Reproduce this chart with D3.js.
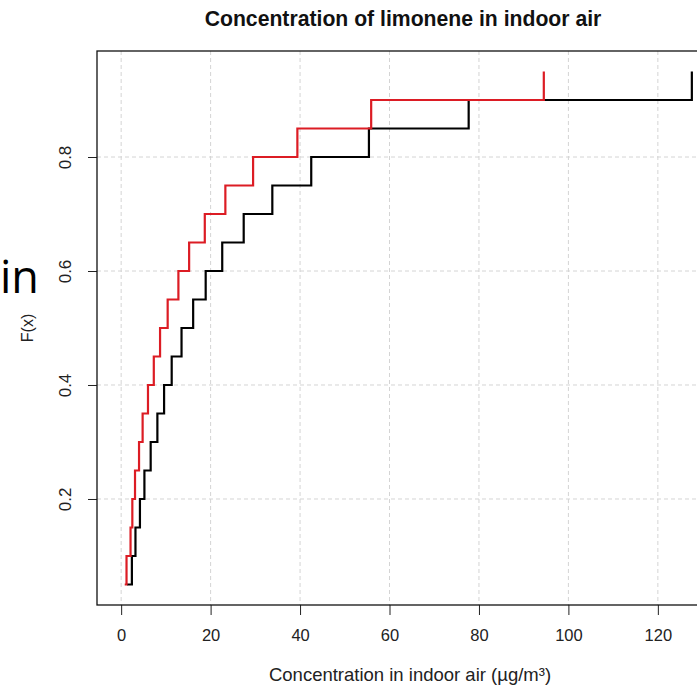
<!DOCTYPE html>
<html>
<head>
<meta charset="utf-8">
<script src="https://cdn.jsdelivr.net/npm/d3@7"></script>
<style>
  body { margin: 0; background: #fff; }
  text { font-family: "Liberation Sans", Arial, sans-serif; }
</style>
</head>
<body>
<div id="chart"></div>
<script>
// cumulative levels and sorted concentrations (ug/m3)
const probs = [0.05, 0.10, 0.15, 0.20, 0.25, 0.30, 0.35, 0.40, 0.45, 0.50,
               0.55, 0.60, 0.65, 0.70, 0.75, 0.80, 0.85, 0.90, 0.95]
const blackConc = [1.3, 2.4, 3.2, 4.2, 5.2, 6.6, 8.1, 9.6, 11.3, 13.5,
                   16.1, 18.9, 22.6, 27.4, 33.8, 42.5, 55.4, 77.7, 127.6]
const redConc = [0.8, 1.2, 2.1, 2.5, 3.1, 4.0, 4.8, 6.0, 7.3, 8.7,
                 10.4, 12.8, 15.2, 18.7, 23.3, 29.5, 39.4, 55.9, 94.5]
const xTicks = [0, 20, 40, 60, 80, 100, 120]
const yTicks = [0.2, 0.4, 0.6, 0.8]

const width = 697, height = 687
const plotLeft = 97, plotTop = 51, plotBottom = 605, plotRight = 716

const svg = d3.select("#chart").append("svg")
    .attr("width", width)
    .attr("height", height)

const x = d3.scaleLinear().domain([-5.4, 133]).range([plotLeft, plotRight])
const y = d3.scaleLinear().domain([0.014, 0.986]).range([plotBottom, plotTop])

// stray slide text on the left
svg.append("text")
    .attr("x", 0).attr("y", 293)
    .attr("text-anchor", "start")
    .style("font-family", "'Open Sans', sans-serif")
    .style("font-size", "45px")
    .attr("fill", "#000")
    .text("in")

svg.append("text")
    .attr("x", 403).attr("y", 26)
    .attr("text-anchor", "middle")
    .style("font-weight", "bold")
    .style("font-size", "21.2px")
    .attr("fill", "#111")
    .text("Concentration of limonene in indoor air")

// grid
const grid = svg.append("g")
grid.selectAll("line.vx").data(xTicks).enter().append("line")
    .attr("x1", d => x(d)).attr("x2", d => x(d))
    .attr("y1", plotTop).attr("y2", plotBottom)
grid.selectAll("line.hy").data(yTicks).enter().append("line")
    .attr("x1", plotLeft).attr("x2", plotRight)
    .attr("y1", d => y(d)).attr("y2", d => y(d))
grid.selectAll("line")
    .attr("stroke", "#d4d4d4")
    .attr("stroke-width", 1)
    .attr("stroke-dasharray", "4,3")

// axes
const xAxis = svg.append("g")
    .attr("transform", `translate(0,${plotBottom})`)
    .call(d3.axisBottom(x).tickValues(xTicks).tickSize(10).tickPadding(14).tickFormat(d3.format("d")))
xAxis.select(".domain").remove()
xAxis.selectAll("line").attr("stroke", "#222")
xAxis.selectAll("text")
    .style("font-size", "16.5px")
    .style("font-family", "'Liberation Sans', Arial, sans-serif")
    .attr("fill", "#222")

const yAxis = svg.append("g")
    .attr("transform", `translate(${plotLeft},0)`)
    .call(d3.axisLeft(y).tickValues(yTicks).tickSize(9).tickFormat(d3.format(".1f")))
yAxis.select(".domain").remove()
yAxis.selectAll("line").attr("stroke", "#222")
yAxis.selectAll("text")
    .attr("transform", "rotate(-90)")
    .attr("x", 0).attr("y", -26)
    .attr("dy", 0)
    .attr("text-anchor", "middle")
    .style("font-size", "17px")
    .style("font-family", "'Liberation Sans', Arial, sans-serif")
    .attr("fill", "#222")

// box (right side runs off the canvas)
svg.append("rect")
    .attr("x", plotLeft).attr("y", plotTop)
    .attr("width", plotRight - plotLeft).attr("height", plotBottom - plotTop)
    .attr("fill", "none")
    .attr("stroke", "#111")
    .attr("stroke-width", 1.3)

svg.append("text")
    .attr("x", 410).attr("y", 681)
    .attr("text-anchor", "middle")
    .style("font-size", "18.5px")
    .attr("fill", "#222")
    .text("Concentration in indoor air (µg/m³)")

svg.append("text")
    .attr("transform", "translate(33,328) rotate(-90)")
    .attr("text-anchor", "middle")
    .style("font-size", "16px")
    .attr("fill", "#222")
    .text("F(x)")

// ecdf steps
const line = d3.line()
    .curve(d3.curveStepAfter)
    .x(d => x(d[0]))
    .y(d => y(d[1]))

const series = [
    {name: "black", conc: blackConc, color: "#000"},
    {name: "red", conc: redConc, color: "#dc1c24"}
]
svg.selectAll("path.ecdf").data(series).enter().append("path")
    .attr("class", "ecdf")
    .attr("d", s => line(s.conc.map((c, i) => [c, probs[i]])))
    .attr("fill", "none")
    .attr("stroke", s => s.color)
    .attr("stroke-width", 2.2)
</script>
</body>
</html>
